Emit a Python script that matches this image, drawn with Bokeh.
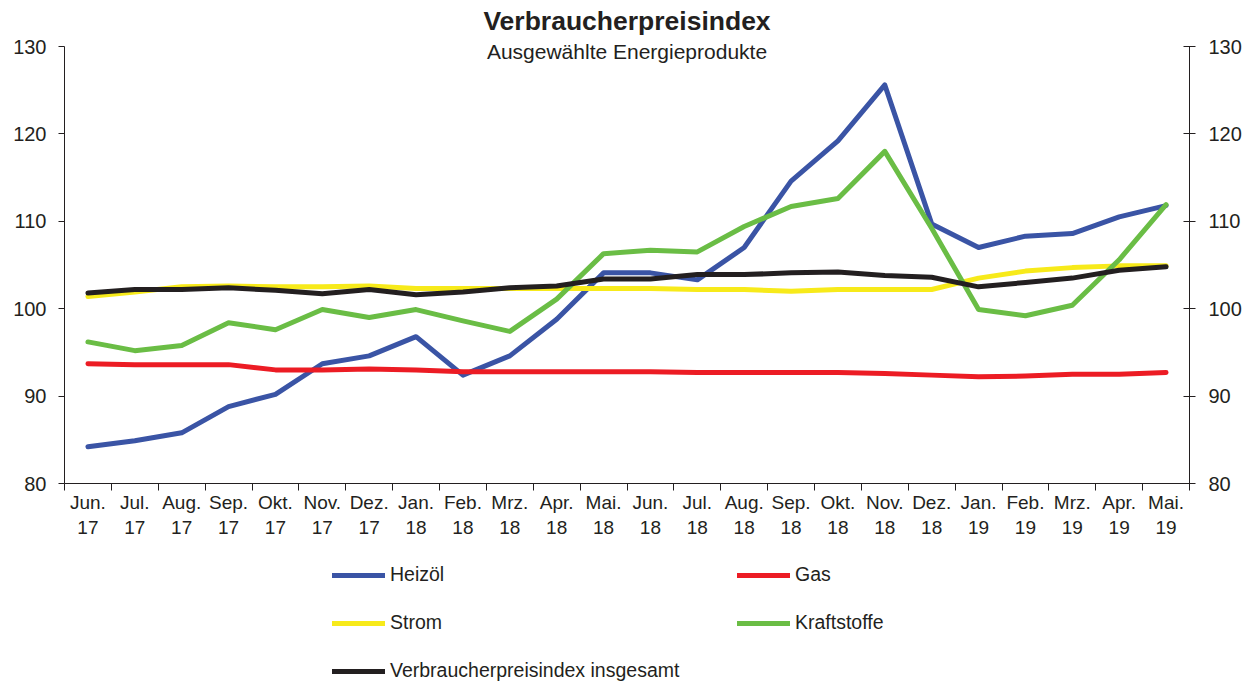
from bokeh.plotting import figure
from bokeh.models import (FactorRange, Range1d, LinearAxis, CategoricalAxis, FixedTicker,
                          Legend, LegendItem, Label, Grid)
from bokeh.embed import file_html
from bokeh.resources import INLINE

# ---------------- data ----------------
months = ["Jun.\n17", "Jul.\n17", "Aug.\n17", "Sep.\n17", "Okt.\n17", "Nov.\n17", "Dez.\n17",
          "Jan.\n18", "Feb.\n18", "Mrz.\n18", "Apr.\n18", "Mai.\n18", "Jun.\n18", "Jul.\n18",
          "Aug.\n18", "Sep.\n18", "Okt.\n18", "Nov.\n18", "Dez.\n18", "Jan.\n19", "Feb.\n19",
          "Mrz.\n19", "Apr.\n19", "Mai.\n19"]

heizoel = [84.2, 84.9, 85.8, 88.8, 90.2, 93.7, 94.6, 96.8, 92.4, 94.6, 98.8, 104.1,
           104.1, 103.3, 107.0, 114.6, 119.2, 125.6, 109.7, 107.0, 108.3, 108.6, 110.5, 111.8]
gas = [93.7, 93.6, 93.6, 93.6, 93.0, 93.0, 93.1, 93.0, 92.8, 92.8, 92.8, 92.8,
       92.8, 92.7, 92.7, 92.7, 92.7, 92.6, 92.4, 92.2, 92.3, 92.5, 92.5, 92.7]
strom = [101.4, 101.9, 102.5, 102.6, 102.5, 102.5, 102.6, 102.3, 102.3, 102.3, 102.3, 102.3,
         102.3, 102.2, 102.2, 102.0, 102.2, 102.2, 102.2, 103.5, 104.3, 104.7, 104.9, 104.9]
kraftstoffe = [96.2, 95.2, 95.8, 98.4, 97.6, 99.9, 99.0, 99.9, 98.6, 97.4, 101.1, 106.3,
               106.7, 106.5, 109.4, 111.7, 112.6, 118.0, 109.2, 99.9, 99.2, 100.4, 105.6, 111.9]
vpi = [101.8, 102.2, 102.2, 102.4, 102.1, 101.7, 102.2, 101.6, 101.9, 102.4, 102.6, 103.4,
       103.4, 103.9, 103.9, 104.1, 104.2, 103.8, 103.6, 102.5, 103.0, 103.5, 104.4, 104.8]

series_names = ["Heizöl", "Gas", "Strom", "Kraftstoffe", "Verbraucherpreisindex insgesamt"]
y_ticks = [80, 90, 100, 110, 120, 130]
title_text = "Verbraucherpreisindex"
subtitle_text = "Ausgewählte Energieprodukte"

# ---------------- styling / layout ----------------
FONT = "Liberation Sans"
TXT = "#231F20"
colors = ["#3A54A5", "#EC1C24", "#F7EA1A", "#6ABD45", "#231F20"]

W, H = 1258, 686
AX_L, AX_R = 64, 1189        # pixel x of left / right value axes
AX_T, AX_B = 46, 483         # pixel y of the 130 / 80 ticks
n = len(months)
ppx = (AX_R - AX_L) / n                      # pixels per category
pad_units = AX_L / ppx                       # symmetric padding in category units
RIGHT_BORDER = W - int(round(AX_R + pad_units * ppx))
ppu = (AX_B - AX_T) / (y_ticks[-1] - y_ticks[0])
y_start = y_ticks[0] - (H - AX_B) / ppu
y_end = y_ticks[-1] + AX_T / ppu

p = figure(width=W, height=H, output_backend="svg", toolbar_location=None,
           x_range=FactorRange(factors=months, range_padding=pad_units,
                               range_padding_units="absolute"),
           y_range=Range1d(y_start, y_end),
           x_axis_location=None, y_axis_location=None,
           min_border_left=0, min_border_right=RIGHT_BORDER,
           min_border_top=0, min_border_bottom=0)
p.outline_line_color = None
p.background_fill_color = "white"
p.border_fill_color = "white"

# y axes, fixed at the first / last category boundary, bounded to 80..130
def yaxis(side, loc):
    ax = LinearAxis(ticker=FixedTicker(ticks=y_ticks, minor_ticks=[]),
                    bounds=(y_ticks[0], y_ticks[-1]), fixed_location=loc)
    ax.axis_line_color = TXT
    ax.axis_line_width = 1
    ax.major_tick_line_color = TXT
    ax.major_tick_out = 6
    ax.major_tick_in = 0 if side == "left" else 6
    ax.minor_tick_line_color = None
    ax.major_label_text_font = FONT
    ax.major_label_text_font_size = "20px"
    ax.major_label_text_color = TXT
    ax.major_label_standoff = 12 if side == "left" else 13
    return ax

p.add_layout(yaxis("left", 0), "left")
p.add_layout(yaxis("right", n), "right")

# x axis line with tick marks at the category boundaries
tick_axis = LinearAxis(ticker=FixedTicker(ticks=list(range(n + 1)), minor_ticks=[]),
                       bounds=(0, n), fixed_location=y_ticks[0])
tick_axis.axis_line_color = TXT
tick_axis.major_tick_line_color = TXT
tick_axis.major_tick_out = 7
tick_axis.major_tick_in = 0
tick_axis.minor_tick_line_color = None
tick_axis.major_label_text_font_size = "1px"
tick_axis.major_label_text_alpha = 0
tick_axis.major_label_standoff = 0
p.add_layout(tick_axis, "below")

# month labels at the category centres
cat_axis = CategoricalAxis(fixed_location=y_ticks[0])
cat_axis.axis_line_color = None
cat_axis.major_tick_line_color = None
cat_axis.major_tick_out = 0
cat_axis.major_tick_in = 0
cat_axis.minor_tick_line_color = None
cat_axis.major_label_text_font = FONT
cat_axis.major_label_text_font_size = "19px"
cat_axis.major_label_text_color = TXT
cat_axis.major_label_standoff = 8
cat_axis.major_label_orientation = "horizontal"
p.add_layout(cat_axis, "below")

for r in list(p.center):
    if isinstance(r, Grid):
        r.visible = False

# lines
data = [heizoel, gas, strom, kraftstoffe, vpi]
renderers = []
for name, vals, col in zip(series_names, data, colors):
    r = p.line(months, vals, line_color=col, line_width=5, line_join="round", line_cap="round")
    renderers.append(r)

# legend (two columns, under the axis)
items = [LegendItem(label=nm, renderers=[r]) for nm, r in zip(series_names, renderers)]
legend = Legend(items=items, orientation="horizontal", ncols=2, location=(332, 4))
legend.glyph_width = 53
legend.glyph_height = 22
legend.label_height = 22
legend.label_width = 322
legend.label_standoff = 5
legend.spacing = 25
legend.padding = 0
legend.margin = 0
legend.border_line_color = None
legend.background_fill_alpha = 0
legend.label_text_font = FONT
legend.label_text_font_size = "19.5px"
legend.label_text_color = TXT
p.add_layout(legend, "center")

# title and subtitle (centred over the axes, synthetic x coordinate)
mid = n / 2
p.add_layout(Label(x=mid, y=y_ticks[-1] + 26 / ppu,
                   text=title_text, text_align="center", text_baseline="middle",
                   text_font=FONT, text_font_size="26.5px", text_font_style="bold",
                   text_color=TXT))
p.add_layout(Label(x=mid, y=y_ticks[-1] - 5 / ppu,
                   text=subtitle_text, text_align="center", text_baseline="middle",
                   text_font=FONT, text_font_size="21px",
                   text_color=TXT))

open("out.html", "w").write(file_html(p, INLINE))
